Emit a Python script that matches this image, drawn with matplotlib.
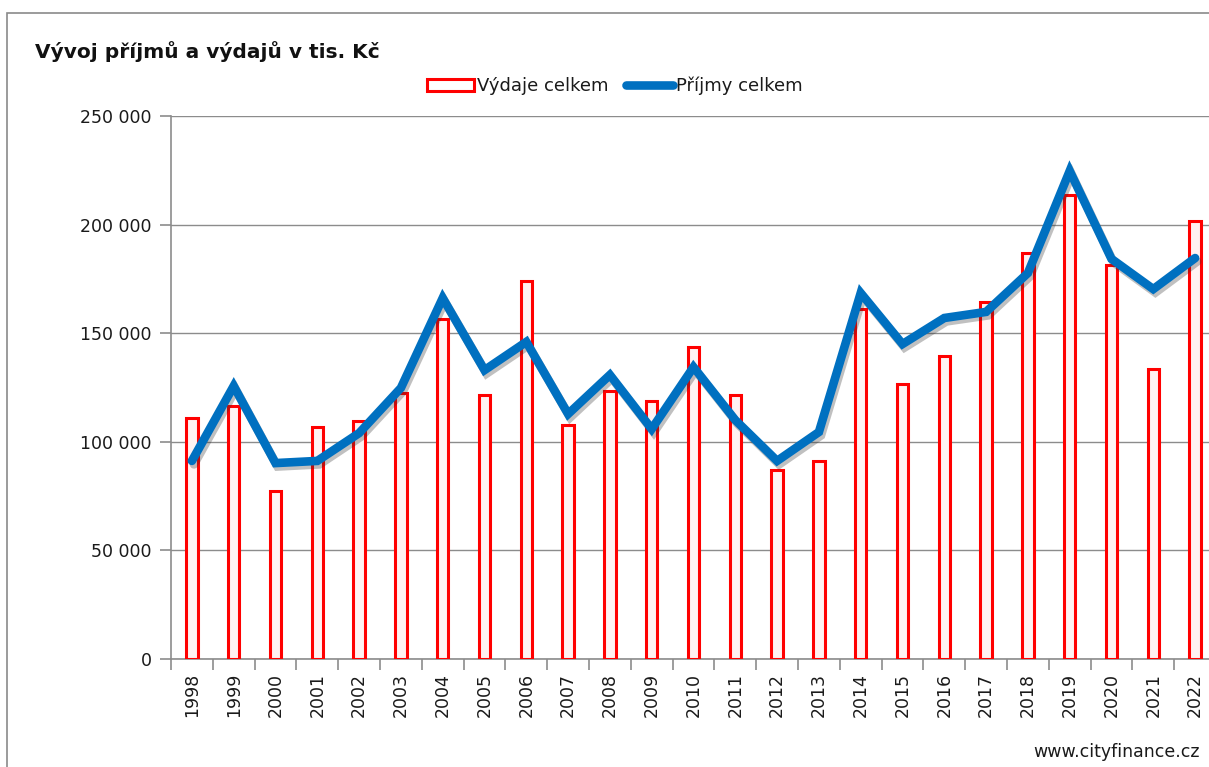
import matplotlib
matplotlib.use("Agg")
import matplotlib.pyplot as plt
import matplotlib.patheffects as pe
from matplotlib.patches import Patch, Rectangle
from matplotlib.lines import Line2D
from matplotlib.ticker import FuncFormatter, FixedLocator

years = [str(y) for y in range(1998, 2023)]

# values in thousand CZK
vydaje = [111000, 116500, 77300, 106800, 109600, 122500, 156500, 121500, 174000,
          107700, 123400, 118800, 143600, 121500, 87000, 91200, 161000, 126600,
          139500, 164400, 187000, 213600, 181400, 133500, 201700]
prijmy = [91200, 125700, 90200, 91200, 104000, 124800, 166200, 133000, 146000,
          112800, 130800, 105900, 134400, 110000, 91200, 104500, 168500, 145000,
          157000, 159800, 177700, 224700, 184200, 170300, 184600]

y_ticks = [0, 50000, 100000, 150000, 200000, 250000]

W, H = 1209, 767
fig = plt.figure(figsize=(W / 100, H / 100), dpi=100)
fig.patch.set_facecolor("white")

# outer chart frame (only top and left edges show in the crop)
fig.add_artist(Rectangle((7 / W, -0.2), 1.5, 1.2 - 13 / H, transform=fig.transFigure,
                         fill=False, edgecolor="#8a8a8a", linewidth=1.2, clip_on=False))

ax = fig.add_axes([171 / W, 1 - 659 / H, 1045 / W, (659 - 116) / H])
x = list(range(len(years)))

ax.bar(x, vydaje, width=0.27, facecolor="#fff2f2", edgecolor="#ff0000",
       linewidth=2.2, zorder=3)
ax.plot(x, prijmy, color="#0070c0", linewidth=6.2, solid_joinstyle="miter",
        solid_capstyle="round", zorder=4,
        path_effects=[pe.SimpleLineShadow(offset=(1.5, -2.5), shadow_color="#303030", alpha=0.3),
                      pe.Normal()])

ax.set_xlim(-0.5, len(years) - 0.5)
ax.set_ylim(0, 250000)
ax.set_yticks(y_ticks)
ax.yaxis.set_major_formatter(FuncFormatter(lambda v, p: f"{int(v):,}".replace(",", " ")))
ax.grid(axis="y", color="#8c8c8c", linewidth=1.0, zorder=0)
ax.set_axisbelow(True)

ax.set_xticks(x)
ax.set_xticklabels(years, rotation=90)
ax.xaxis.set_minor_locator(FixedLocator([i - 0.5 for i in range(len(years) + 1)]))
ax.tick_params(axis="x", which="major", length=0, pad=10, labelsize=12.5, labelcolor="#1a1a1a")
ax.tick_params(axis="x", which="minor", length=8, color="#8c8c8c", width=1.2)
ax.tick_params(axis="y", length=8, color="#8c8c8c", width=1.2, pad=6,
               labelsize=12.5, labelcolor="#1a1a1a")

for side in ["top", "right"]:
    ax.spines[side].set_visible(False)
for side in ["left", "bottom"]:
    ax.spines[side].set_color("#8c8c8c")
    ax.spines[side].set_linewidth(1.2)

fig.text(35 / W, 1 - 52 / H, "Vývoj příjmů a výdajů v tis. Kč", fontsize=14.5,
         fontweight="bold", family="DejaVu Sans",
         ha="left", va="center", color="#111111")

handles = [Patch(facecolor="white", edgecolor="#ff0000", linewidth=2.2),
           Line2D([0], [0], color="#0070c0", linewidth=6.2, solid_capstyle="round")]
fig.legend(handles, ["Výdaje celkem", "Příjmy celkem"], loc="center",
           bbox_to_anchor=(615 / W, 1 - 86 / H), ncol=2, frameon=False,
           fontsize=13, handlelength=2.6, handletextpad=0.15, columnspacing=1.0,
           labelcolor="#1a1a1a")

fig.text(1200 / W, 1 - 752 / H, "www.cityfinance.cz", fontsize=12.5, ha="right",
         va="center", color="#1a1a1a")

fig.savefig("out.png", dpi=100)
